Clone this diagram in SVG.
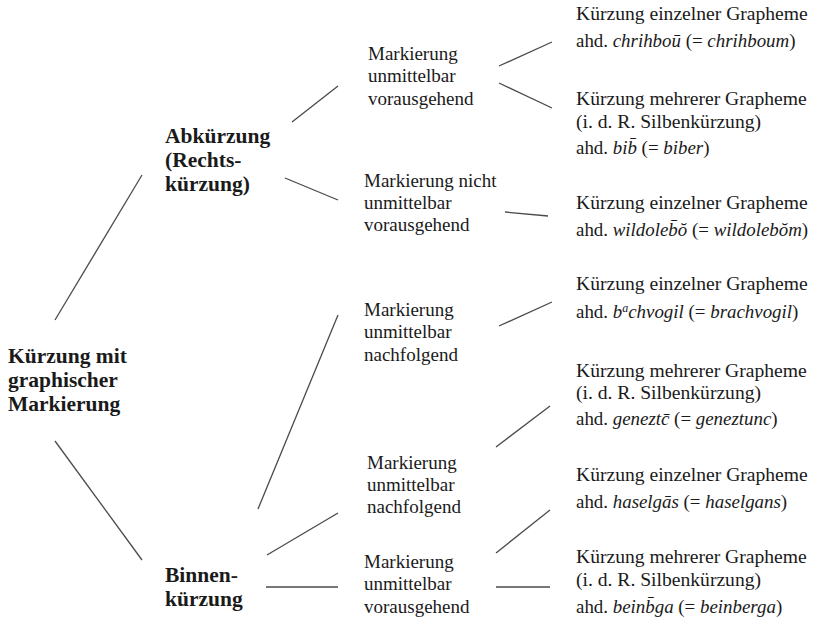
<svg xmlns="http://www.w3.org/2000/svg" width="813" height="627" viewBox="0 0 813 627">
<style>
text{font-family:'Liberation Serif','Times New Roman','DejaVu Serif',serif;fill:#1a1a1a;font-size:19px}
.r{font-size:19.6px}
.a{font-size:18.9px}
.b{font-weight:bold;font-size:21.5px}
.i{font-style:italic}
line{stroke:#4a4a4a;stroke-width:1.3}
</style>
<rect width="813" height="627" fill="#fff"/>
<g id="connectors">
<line x1="55" y1="320" x2="142" y2="175"/>
<line x1="55" y1="441" x2="142" y2="560"/>
<line x1="292" y1="122" x2="338" y2="86"/>
<line x1="285" y1="178" x2="338" y2="200"/>
<line x1="499" y1="66" x2="552" y2="42"/>
<line x1="499" y1="83" x2="552" y2="108"/>
<line x1="505" y1="212" x2="548" y2="216"/>
<line x1="499" y1="326" x2="552" y2="302"/>
<line x1="258" y1="509" x2="338" y2="315"/>
<line x1="267" y1="555" x2="338" y2="513"/>
<line x1="266" y1="587" x2="338" y2="587"/>
<line x1="496" y1="447" x2="550" y2="406"/>
<line x1="496" y1="553" x2="550" y2="510"/>
<line x1="496" y1="587" x2="550" y2="587"/>
</g>
<g id="root"><text class="b" x="8" y="363">Kürzung mit</text><text class="b" x="8" y="387">graphischer</text><text class="b" x="8" y="411">Markierung</text></g>
<g id="abk"><text class="b" x="165" y="143">Abkürzung</text><text class="b" x="165" y="167">(Rechts-</text><text class="b" x="165" y="191">kürzung)</text></g>
<g id="binnen"><text class="b" x="165" y="582">Binnen-</text><text class="b" x="165" y="606">kürzung</text></g>
<g id="m1"><text x="368" y="60">Markierung</text><text x="368" y="82">unmittelbar</text><text x="368" y="105">vorausgehend</text></g>
<g id="m2"><text x="364" y="187">Markierung nicht</text><text x="364" y="209">unmittelbar</text><text x="364" y="231">vorausgehend</text></g>
<g id="m3"><text x="364" y="316">Markierung</text><text x="364" y="338">unmittelbar</text><text x="364" y="361">nachfolgend</text></g>
<g id="m4"><text x="367" y="469">Markierung</text><text x="367" y="491">unmittelbar</text><text x="367" y="513">nachfolgend</text></g>
<g id="m5"><text x="364" y="568">Markierung</text><text x="364" y="590">unmittelbar</text><text x="364" y="613">vorausgehend</text></g>
<g id="r1"><text class="r" x="576" y="20">Kürzung einzelner Grapheme</text><text class="a" x="576" y="47">ahd. <tspan class="i">chrihboū</tspan> (= <tspan class="i">chrihboum</tspan>)</text></g>
<g id="r2"><text class="r" x="576" y="105">Kürzung mehrerer Grapheme</text><text class="r" x="576" y="128">(i. d. R. Silbenkürzung)</text><text class="a" x="576" y="154">ahd. <tspan class="i">bib̄</tspan> (= <tspan class="i">biber</tspan>)</text></g>
<g id="r3"><text class="r" x="576" y="209">Kürzung einzelner Grapheme</text><text class="a" x="576" y="236">ahd. <tspan class="i">wildoleb̄ŏ</tspan> (= <tspan class="i">wildolebŏm</tspan>)</text></g>
<g id="r4"><text class="r" x="576" y="290">Kürzung einzelner Grapheme</text><text class="a" x="576" y="318">ahd. <tspan class="i">b<tspan font-size="12" dy="-6">a</tspan><tspan dy="6">chvogil</tspan></tspan> (= <tspan class="i">brachvogil</tspan>)</text></g>
<g id="r5"><text class="r" x="576" y="377">Kürzung mehrerer Grapheme</text><text class="r" x="576" y="399">(i. d. R. Silbenkürzung)</text><text class="a" x="576" y="425">ahd. <tspan class="i">geneztc̄</tspan> (= <tspan class="i">geneztunc</tspan>)</text></g>
<g id="r6"><text class="r" x="576" y="481">Kürzung einzelner Grapheme</text><text class="a" x="576" y="508">ahd. <tspan class="i">haselgās</tspan> (= <tspan class="i">haselgans</tspan>)</text></g>
<g id="r7"><text class="r" x="576" y="563">Kürzung mehrerer Grapheme</text><text class="r" x="576" y="586">(i. d. R. Silbenkürzung)</text><text class="a" x="576" y="613">ahd. <tspan class="i">beinb̄ga</tspan> (= <tspan class="i">beinberga</tspan>)</text></g>
</svg>
